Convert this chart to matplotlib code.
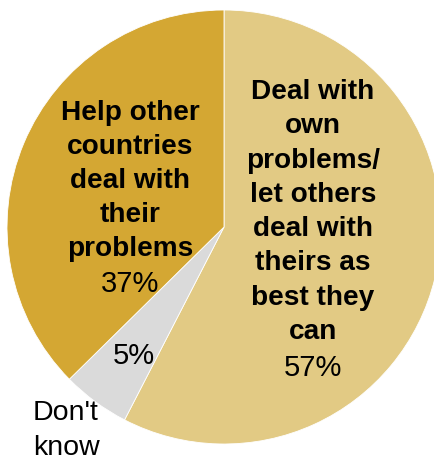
import matplotlib
matplotlib.use("Agg")
import matplotlib.pyplot as plt

categories = ["Deal with own problems/\nlet others deal with\ntheirs as best they can",
              "Don't know",
              "Help other countries deal with their problems"]
values = [57, 5, 37]
colors = ["#E2CA84", "#DADADA", "#D4A733"]

W, H = 434, 461
fig = plt.figure(figsize=(W / 100, H / 100), dpi=100)
ax = fig.add_axes([0, 0, 1, 1])

cx, cy, r = 224, H - 227, 217
ax.pie(values, colors=colors, startangle=90, counterclock=False,
       center=(cx, cy), radius=r, frame=True,
       wedgeprops=dict(edgecolor="white", linewidth=0.6))
ax.set_xlim(0, W)
ax.set_ylim(0, H)
ax.set_aspect("equal")
ax.axis("off")

bold = dict(family=["Liberation Sans", "DejaVu Sans"], fontweight="bold",
            fontsize=20.2, ha="center", va="center", color="black")
reg = dict(family=["Liberation Sans", "DejaVu Sans"], fontsize=21,
           ha="center", va="center", color="black")

right_lines = ["Deal with", "own", "problems/", "let others", "deal with",
               "theirs as", "best they", "can"]
for i, t in enumerate(right_lines):
    ax.text(313, H - (92 + i * 34.3), t, **bold)
ax.text(313, H - 368, f"{values[0]}%", **reg)

left_lines = ["Help other", "countries", "deal with", "their", "problems"]
for i, t in enumerate(left_lines):
    ax.text(130, H - (113 + i * 34), t, **bold)
ax.text(130, H - 284, f"{values[2]}%", **reg)

ax.text(134, H - 356, f"{values[1]}%", **reg)
ax.text(33, H - 413, "Don't", family=["Liberation Sans", "DejaVu Sans"],
        fontsize=20.5, ha="left", va="center")
ax.text(33, H - 448, "know", family=["Liberation Sans", "DejaVu Sans"],
        fontsize=20.5, ha="left", va="center")

fig.savefig("out.png", dpi=100)
